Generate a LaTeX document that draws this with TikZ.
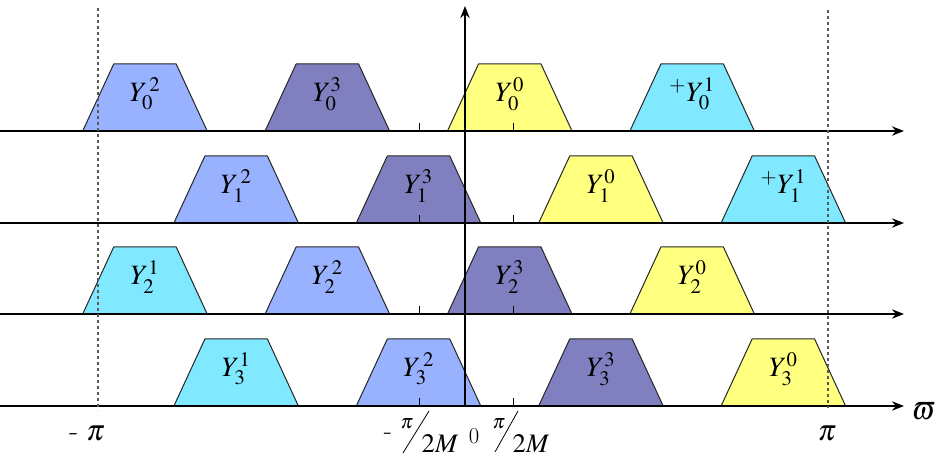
\documentclass[tikz,border=0pt]{standalone}
\usepackage{mathptmx}
\usetikzlibrary{arrows.meta}
\definecolor{cYa}{RGB}{255,255,128}
\definecolor{cYb}{RGB}{128,232,255}
\definecolor{cYc}{RGB}{153,178,255}
\definecolor{cYd}{RGB}{128,128,192}
\tikzset{
  band/.style={draw=black!85, line width=0.75pt, line join=round},
  axisline/.style={line width=1.2pt, -{Stealth[length=9pt,width=7pt]}},
  guide/.style={dash pattern=on 2.5pt off 2pt, line width=1.5pt, black!65},
  tickmark/.style={line width=0.6pt},
  blabel/.style={font=\fontsize{21}{21}\selectfont, inner sep=0pt},
  xlabel/.style={font=\fontsize{22}{22}\selectfont, inner sep=0pt},
  smlabel/.style={font=\fontsize{15}{15}\selectfont, inner sep=0pt},
  midlabel/.style={font=\fontsize{20}{20}\selectfont, inner sep=0pt},
}
\newcommand\bandshape[5]{%
  \filldraw[band, fill=#3] (#1,#2) -- ++(31,-67) -- ++(62.5,0) -- ++(31,67) -- cycle;
  \node[blabel] (#5) at ({#1+62.25},{#2-37}) {#4};}
\begin{document}
\begin{tikzpicture}[x=0.75pt,y=-0.75pt]
\useasboundingbox (0,0) rectangle (936,459);
% row 0
\bandshape{82.7}{131}{cYc}{$Y_0^{\,2}$}{a0}
\bandshape{265.1}{131}{cYd}{$Y_0^{3}$}{a1}
\bandshape{447.5}{131}{cYa}{$Y_0^{0}$}{a2}
\bandshape{629.9}{131}{cYb}{${}^{+}Y_0^{1}$}{a3}
% row 1
\bandshape{173.9}{223}{cYc}{$Y_1^{\,2}$}{b0}
\bandshape{356.3}{223}{cYd}{$Y_1^{3}$}{b1}
\bandshape{538.7}{223}{cYa}{$Y_1^{0}$}{b2}
\bandshape{721.1}{223}{cYb}{${}^{+}Y_1^{1}$}{b3}
% row 2
\bandshape{82.7}{314}{cYb}{$Y_2^{1}$}{c0}
\bandshape{265.1}{314}{cYc}{$Y_2^{\,2}$}{c1}
\bandshape{447.5}{314}{cYd}{$Y_2^{3}$}{c2}
\bandshape{629.9}{314}{cYa}{$Y_2^{0}$}{c3}
% row 3
\bandshape{173.9}{406}{cYb}{$Y_3^{1}$}{d0}
\bandshape{356.3}{406}{cYc}{$Y_3^{\,2}$}{d1}
\bandshape{538.7}{406}{cYd}{$Y_3^{3}$}{d2}
\bandshape{721.1}{406}{cYa}{$Y_3^{0}$}{d3}
% horizontal axes and ticks
\foreach \r/\y in {0/131,1/223,2/314,3/406}{
  \coordinate (s\r) at (0,\y);
  \coordinate (e\r) at (904,\y);
  \draw[axisline] (s\r) -- (e\r);
  \coordinate (tl\r) at (419,\y);
  \coordinate (tr\r) at (513,\y);
  \draw[tickmark] (tl\r) -- ++(0,-8);
  \draw[tickmark] (tr\r) -- ++(0,-8);
}
% vertical axis
\coordinate (vb) at (465,407);
\coordinate (vt) at (465,6);
\draw[axisline] (vb) -- (vt);
% dashed guides
\coordinate (g1t) at (97.5,8);
\coordinate (g1b) at (97.5,410);
\coordinate (g2t) at (828,10);
\coordinate (g2b) at (828,408);
\draw[guide] (g1t) -- (g1b);
\draw[guide] (g2t) -- (g2b);
% axis labels
\node[xlabel] (mpi) at (87,434) {{\bfseries -}\;$\pi$};
\node[xlabel] (ppi) at (827,434) {$\pi$};
\node[xlabel] (om) at (924,411) {$\varpi$};
% -pi/2M 0 pi/2M
\node[midlabel] (mneg) at (388,436) {-};
\node[smlabel] (mpa) at (407,424) {$\pi$};
\coordinate (sl1b) at (403,453);
\coordinate (sl1t) at (429,411);
\draw[line width=0.6pt] (sl1b) -- (sl1t);
\node[midlabel] (mda) at (440,444) {$2M$};
\node[font=\fontsize{17}{17}\selectfont, inner sep=0pt] (zero) at (474,436) {0};
\node[smlabel] (mpb) at (499,424) {$\pi$};
\coordinate (sl2b) at (495,452);
\coordinate (sl2t) at (518,411);
\draw[line width=0.6pt] (sl2b) -- (sl2t);
\node[midlabel] (mdb) at (531,444) {$2M$};
\end{tikzpicture}
\end{document}
